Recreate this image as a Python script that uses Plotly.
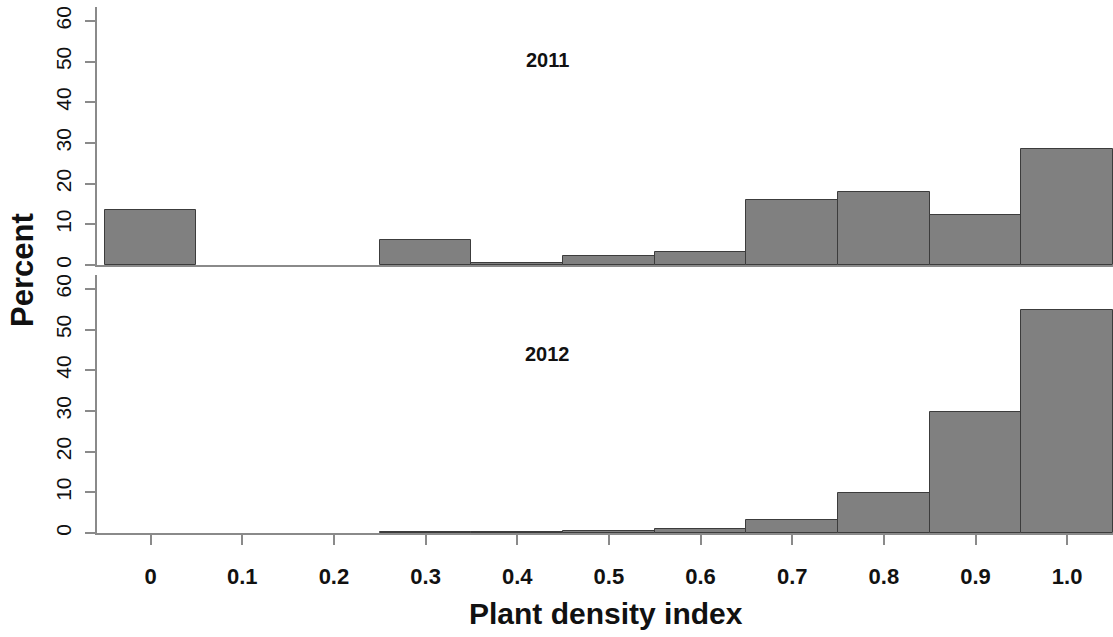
import plotly.graph_objects as go
from plotly.subplots import make_subplots

bins = [0.0, 0.1, 0.2, 0.3, 0.4, 0.5, 0.6, 0.7, 0.8, 0.9, 1.0]
tick_labels = ["0", "0.1", "0.2", "0.3", "0.4", "0.5", "0.6", "0.7", "0.8", "0.9", "1.0"]
pct_2011 = [13.5, 0.0, 0.0, 6.1, 0.4, 2.3, 3.1, 16.0, 17.9, 12.2, 28.6]
pct_2012 = [0.0, 0.0, 0.0, 0.2, 0.2, 0.6, 1.05, 3.1, 9.9, 29.7, 54.9]
y_ticks = [0, 10, 20, 30, 40, 50, 60]


def nonzero(xs, ys):
    pairs = [(x, y) for x, y in zip(xs, ys) if y > 0]
    return [p[0] for p in pairs], [p[1] for p in pairs]


fig = make_subplots(rows=2, cols=1, shared_xaxes=False, vertical_spacing=0.019)

bar_style = dict(marker=dict(color="#808080", line=dict(color="#3c3c3c", width=1)),
                 width=0.1, showlegend=False)
x1, y1 = nonzero(bins, pct_2011)
x2, y2 = nonzero(bins, pct_2012)
fig.add_trace(go.Bar(x=x1, y=y1, **bar_style), row=1, col=1)
fig.add_trace(go.Bar(x=x2, y=y2, **bar_style), row=2, col=1)

font_family = "Liberation Sans, Arial, sans-serif"
xr = [-0.0585, 1.05]
yr = [0, 63.4]
axis_color = "#8a8a8a"

fig.update_xaxes(range=xr, showgrid=False, zeroline=False, showline=True,
                 linecolor=axis_color, linewidth=2, row=1, col=1,
                 showticklabels=False, ticks="")
fig.update_xaxes(range=xr, showgrid=False, zeroline=False, showline=True,
                 linecolor=axis_color, linewidth=2, row=2, col=1,
                 tickmode="array", tickvals=bins, ticktext=tick_labels,
                 ticks="outside", ticklen=10, tickwidth=2, tickcolor=axis_color,
                 tickfont=dict(family=font_family, size=22, color="#111111", weight="bold"),
                 ticklabelstandoff=13)
for r in (1, 2):
    fig.update_yaxes(range=yr, showgrid=False, zeroline=False, showline=True,
                     linecolor=axis_color, linewidth=2,
                     tickmode="array", tickvals=y_ticks,
                     ticks="outside", ticklen=10, tickwidth=2, tickcolor=axis_color,
                     tickangle=-90,
                     tickfont=dict(family=font_family, size=21, color="#111111"),
                     ticklabelstandoff=6, row=r, col=1)

fig.add_annotation(text="<b>2011</b>", x=0.433, y=50.5, xref="x", yref="y",
                   showarrow=False, font=dict(family=font_family, size=20, color="#111111"))
fig.add_annotation(text="<b>2012</b>", x=0.433, y=44.0, xref="x2", yref="y2",
                   showarrow=False, font=dict(family=font_family, size=20, color="#111111"))

fig.add_annotation(text="<b>Percent</b>", x=(22 - 97) / 1016, y=0.5, xref="paper", yref="paper",
                   textangle=-90, showarrow=False, xanchor="center", yanchor="middle",
                   font=dict(family=font_family, size=31, color="#111111"))
fig.add_annotation(text="<b>Plant density index</b>", x=(606 - 97) / 1016, y=-(613 - 533) / 526,
                   xref="paper", yref="paper", showarrow=False, xanchor="center", yanchor="middle",
                   font=dict(family=font_family, size=30, color="#111111"))

fig.update_layout(width=1113, height=637, margin=dict(l=97, r=0, t=7, b=104),
                  plot_bgcolor="white", paper_bgcolor="white", bargap=0)
fig.update_layout(yaxis=dict(domain=[(533 - 265) / 526, 1.0]),
                  yaxis2=dict(domain=[0.0, 258 / 526]))

fig.write_html("out.html")
